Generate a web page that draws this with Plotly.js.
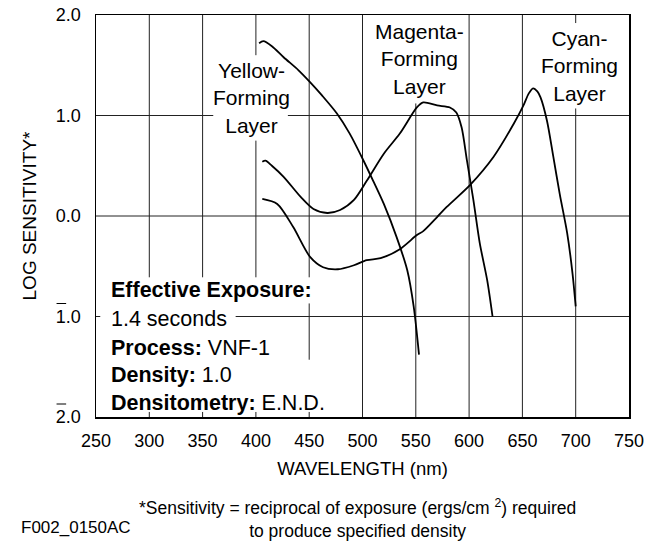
<!DOCTYPE html>
<html>
<head>
<meta charset="utf-8">
<script src="https://cdn.plot.ly/plotly-3.0.1.min.js"></script>
<style>html,body{margin:0;padding:0;background:#fff;}#chart{width:662px;height:544px;}</style>
</head>
<body>
<div id="chart"></div>
<script>
// ---- data ----
const yellowWavelength = [403, 407, 415, 426, 440, 451, 462, 476, 488, 501, 510, 520, 532, 542, 548, 553];
const yellowLogSens    = [1.72, 1.74, 1.69, 1.58, 1.45, 1.33, 1.20, 1.02, 0.82, 0.55, 0.35, 0.12, -0.21, -0.54, -0.90, -1.38];

const magentaWavelength = [406, 409, 415, 426, 442, 454, 467, 479, 492, 504, 520, 535, 551, 557, 570, 582, 588, 593, 598, 604, 610, 617, 622];
const magentaLogSens    = [0.54, 0.55, 0.50, 0.39, 0.19, 0.07, 0.03, 0.06, 0.16, 0.35, 0.62, 0.82, 1.08, 1.13, 1.10, 1.08, 1.03, 0.88, 0.55, 0.16, -0.27, -0.64, -1.00];

const cyanWavelength = [406, 420, 435, 451, 463, 477, 492, 504, 517, 535, 551, 557, 570, 579, 601, 623, 642, 651, 656, 660, 664, 667, 673, 679, 685, 692, 697, 700];
const cyanLogSens    = [0.17, 0.12, -0.11, -0.41, -0.51, -0.53, -0.49, -0.44, -0.42, -0.33, -0.19, -0.15, -0.01, 0.09, 0.31, 0.59, 0.92, 1.10, 1.22, 1.27, 1.24, 1.18, 0.95, 0.59, 0.22, -0.17, -0.57, -0.90];

const xTickVals = [250, 300, 350, 400, 450, 500, 550, 600, 650, 700, 750];
const yTickVals = [-2, -1, 0, 1, 2];
const yTickText = ['2.0', '1.0', '0.0', '1.0', '2.0'];
const negativeTicks = [-2, -1];   // drawn in bar notation (overbar on first digit)

const layerLabels = ['Yellow-<br>Forming<br>Layer', 'Magenta-<br>Forming<br>Layer', 'Cyan-<br>Forming<br>Layer'];
const conditionLines = ['<b>Effective Exposure:</b>', '1.4 seconds', '<b>Process:</b> VNF-1', '<b>Density:</b> 1.0', '<b>Densitometry:</b> E.N.D.'];
const footnoteText = '*Sensitivity = reciprocal of exposure (ergs/cm <sup>2</sup>) required<br>to produce specified density';
const figureId = 'F002_0150AC';

// ---- chart ----
const FONT = 'Liberation Sans, Arial, Helvetica, sans-serif';
const lineStyle = {color: '#000', width: 1.8, shape: 'spline', smoothing: 0.8};

const traces = [
  {x: yellowWavelength, y: yellowLogSens, mode: 'lines', line: lineStyle, hoverinfo: 'skip'},
  {x: magentaWavelength, y: magentaLogSens, mode: 'lines', line: lineStyle, hoverinfo: 'skip'},
  {x: cyanWavelength, y: cyanLogSens, mode: 'lines', line: lineStyle, hoverinfo: 'skip'}
];

// grid segments (gaps where text sits)
const gridSegs = [
  [300, -0.61, 300, 2], [300, -2, 300, -1.95],
  [350, -0.61, 350, 2], [350, -2, 350, -1.95],
  [400, 1.6, 400, 2], [400, -0.61, 400, 0.75], [400, -2, 400, -1.95],
  [450, -0.61, 450, 2], [450, -1.43, 450, -0.87], [450, -2, 450, -1.95],
  [500, -2, 500, 2],
  [550, -2, 550, 1.12],
  [600, -2, 600, 2],
  [650, -2, 650, 2],
  [700, 1.92, 700, 2], [700, -2, 700, 1.07],
  [250, 1, 360, 1], [430, 1, 750, 1],
  [250, 0, 750, 0],
  [250, -1, 254, -1], [381, -1, 750, -1]
];
const shapes = gridSegs.map(s => ({
  type: 'line', xref: 'x', yref: 'y', x0: s[0], y0: s[1], x1: s[2], y1: s[3],
  layer: 'below', line: {color: '#222', width: 1}
}));
// overbars for the negative characteristic tick labels (placed just above each label)
negativeTicks.forEach(v => shapes.push({
  type: 'line', xref: 'paper', yref: 'y', x0: -0.074, x1: -0.056,
  ysizemode: 'pixel', yanchor: v, y0: 13, y1: 13,
  line: {color: '#000', width: 1}
}));

const annFont = {family: FONT, size: 21, color: '#000'};
const condFont = {family: FONT, size: 21.5, color: '#000'};
const annotations = [
  {x: 396, y: 1.175, text: layerLabels[0]},
  {x: 553, y: 1.56, text: layerLabels[1]},
  {x: 704, y: 1.49, text: layerLabels[2]}
].map(a => Object.assign({xref: 'x', yref: 'y', showarrow: false, xanchor: 'center', yanchor: 'middle', align: 'center', font: annFont}, a));

const condY = [-0.74, -1.02, -1.31, -1.58, -1.86];
conditionLines.forEach((t, i) => annotations.push({
  xref: 'x', yref: 'y', x: 262, y: condY[i], text: t, showarrow: false,
  xanchor: 'left', yanchor: 'middle', align: 'left', font: condFont
}));

annotations.push(
  {xref: 'paper', yref: 'paper', x: 0.49, y: -0.252, text: footnoteText,
   showarrow: false, xanchor: 'center', yanchor: 'middle', align: 'center', font: {family: FONT, size: 17.5, color: '#000'}},
  {xref: 'paper', yref: 'paper', x: -0.145, y: -0.275, text: figureId,
   showarrow: false, xanchor: 'left', yanchor: 'middle', font: {family: FONT, size: 17, color: '#000'}}
);

const layout = {
  width: 662, height: 544,
  margin: {l: 96, r: 33, t: 15, b: 127},
  paper_bgcolor: '#fff', plot_bgcolor: '#fff',
  showlegend: false,
  font: {family: FONT, size: 18, color: '#000'},
  xaxis: {range: [250, 750], tickvals: xTickVals, ticks: '', showgrid: false, zeroline: false,
          showline: true, mirror: true, linecolor: '#000', linewidth: 1.5,
          tickfont: {family: FONT, size: 18, color: '#000'}, ticklabelstandoff: 7,
          title: {text: 'WAVELENGTH (nm)', font: {family: FONT, size: 18.5, color: '#000'}, standoff: 12}},
  yaxis: {range: [-2, 2], tickvals: yTickVals, ticktext: yTickText, ticks: '', showgrid: false, zeroline: false,
          showline: true, mirror: true, linecolor: '#000', linewidth: 1.5,
          tickfont: {family: FONT, size: 18, color: '#000'}, ticklabelstandoff: 10,
          title: {text: 'LOG SENSITIVITY*', font: {family: FONT, size: 19, color: '#000'}, standoff: 14}},
  shapes: shapes,
  annotations: annotations
};

Plotly.newPlot('chart', traces, layout, {staticPlot: true, displayModeBar: false});
</script>
</body>
</html>
